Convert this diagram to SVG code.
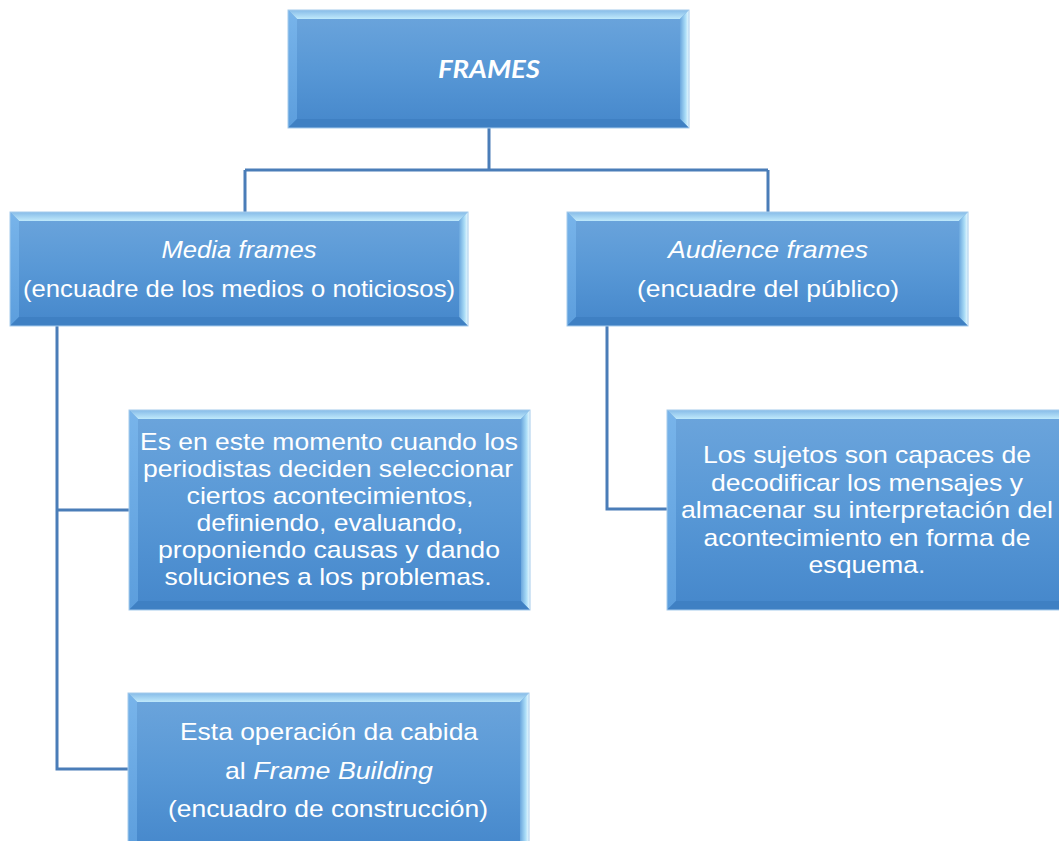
<svg xmlns="http://www.w3.org/2000/svg" width="1059" height="841" viewBox="0 0 1059 841">
<defs>
<linearGradient id="gMain" x1="0" y1="0" x2="0" y2="1">
<stop offset="0" stop-color="#6ca5dc"/>
<stop offset="0.5" stop-color="#5898d6"/>
<stop offset="1" stop-color="#4587cb"/>
</linearGradient>
<linearGradient id="gTop" x1="0" y1="0" x2="0" y2="1">
<stop offset="0" stop-color="#86bbe8"/>
<stop offset="1" stop-color="#bfe9fb"/>
</linearGradient>
<linearGradient id="gRight" x1="0" y1="0" x2="1" y2="0">
<stop offset="0" stop-color="#6aa6dd"/>
<stop offset="0.6" stop-color="#a9dcf7"/>
<stop offset="1" stop-color="#eefbff"/>
</linearGradient>
<linearGradient id="gLeft" x1="0" y1="0" x2="0" y2="1">
<stop offset="0" stop-color="#78b4ea"/>
<stop offset="1" stop-color="#5c9edd"/>
</linearGradient>
</defs>
<style>
.main{fill:url(#gMain)}
.bt{fill:url(#gTop)}
.bl{fill:url(#gLeft)}
.br{fill:url(#gRight)}
.bb{fill:#3f80c3}
.edge{fill:none;stroke:#a6cbec;stroke-width:1}
.conn{fill:none;stroke:#4a7db8;stroke-width:3}
text{font-family:"Liberation Sans",Arial,sans-serif;font-size:24px;fill:#ffffff;text-anchor:middle}
.title{font-family:Lato,"Liberation Sans",sans-serif;font-weight:bold;font-style:italic;font-size:25px}
.it{font-style:italic}
</style>

<g id="connectors">
<path class="conn" d="M489,128 V170 M245,170 H768 M245,170 V212 M768,170 V212"/>
<path class="conn" d="M57,326 V769 H129 M57,510 H129"/>
<path class="conn" d="M607,326 V509 H667"/>
</g>

<g id="frames">
<rect class="main" x="288" y="10" width="401" height="118"/>
<polygon class="bt" points="288,10 689,10 680,19 297,19"/>
<polygon class="bl" points="288,10 297,19 297,119 288,128"/>
<polygon class="br" points="689,10 689,128 680,119 680,19"/>
<polygon class="bb" points="288,128 297,119 680,119 689,128"/>
<rect class="edge" x="288" y="10" width="401" height="118"/>
<text class="title" x="489" y="78" textLength="102" lengthAdjust="spacingAndGlyphs">FRAMES</text>
</g>

<g id="media">
<rect class="main" x="10" y="212" width="458" height="114"/>
<polygon class="bt" points="10,212 468,212 459,221 19,221"/>
<polygon class="bl" points="10,212 19,221 19,317 10,326"/>
<polygon class="br" points="468,212 468,326 459,317 459,221"/>
<polygon class="bb" points="10,326 19,317 459,317 468,326"/>
<rect class="edge" x="10" y="212" width="458" height="114"/>
<text class="it" x="239" y="258" textLength="155" lengthAdjust="spacingAndGlyphs">Media frames</text>
<text x="239" y="297" textLength="432" lengthAdjust="spacingAndGlyphs">(encuadre de los medios o noticiosos)</text>
</g>

<g id="audience">
<rect class="main" x="567" y="212" width="401" height="114"/>
<polygon class="bt" points="567,212 968,212 959,221 576,221"/>
<polygon class="bl" points="567,212 576,221 576,317 567,326"/>
<polygon class="br" points="968,212 968,326 959,317 959,221"/>
<polygon class="bb" points="567,326 576,317 959,317 968,326"/>
<rect class="edge" x="567" y="212" width="401" height="114"/>
<text class="it" x="768" y="258" textLength="200" lengthAdjust="spacingAndGlyphs">Audience frames</text>
<text x="768" y="297" textLength="262" lengthAdjust="spacingAndGlyphs">(encuadre del público)</text>
</g>

<g id="media-detail">
<rect class="main" x="129" y="410" width="401" height="200"/>
<polygon class="bt" points="129,410 530,410 521,419 138,419"/>
<polygon class="bl" points="129,410 138,419 138,601 129,610"/>
<polygon class="br" points="530,410 530,610 521,601 521,419"/>
<polygon class="bb" points="129,610 138,601 521,601 530,610"/>
<rect class="edge" x="129" y="410" width="401" height="200"/>
<text x="329" y="450" textLength="378" lengthAdjust="spacingAndGlyphs">Es en este momento cuando los</text>
<text x="328" y="477" textLength="370" lengthAdjust="spacingAndGlyphs">periodistas deciden seleccionar</text>
<text x="330" y="504" textLength="287" lengthAdjust="spacingAndGlyphs">ciertos acontecimientos,</text>
<text x="330" y="531" textLength="267" lengthAdjust="spacingAndGlyphs">definiendo, evaluando,</text>
<text x="329" y="558" textLength="342" lengthAdjust="spacingAndGlyphs">proponiendo causas y dando</text>
<text x="328" y="585" textLength="327" lengthAdjust="spacingAndGlyphs">soluciones a los problemas.</text>
</g>

<g id="audience-detail">
<rect class="main" x="667" y="410" width="401" height="200"/>
<polygon class="bt" points="667,410 1068,410 1059,419 676,419"/>
<polygon class="bl" points="667,410 676,419 676,601 667,610"/>
<polygon class="br" points="1068,410 1068,610 1059,601 1059,419"/>
<polygon class="bb" points="667,610 676,601 1059,601 1068,610"/>
<rect class="edge" x="667" y="410" width="401" height="200"/>
<text x="867" y="463" textLength="328" lengthAdjust="spacingAndGlyphs">Los sujetos son capaces de</text>
<text x="867" y="490.5" textLength="312" lengthAdjust="spacingAndGlyphs">decodificar los mensajes y</text>
<text x="867" y="518" textLength="372" lengthAdjust="spacingAndGlyphs">almacenar su interpretación del</text>
<text x="867" y="545.5" textLength="327" lengthAdjust="spacingAndGlyphs">acontecimiento en forma de</text>
<text x="867" y="573" textLength="117" lengthAdjust="spacingAndGlyphs">esquema.</text>
</g>

<g id="frame-building">
<rect class="main" x="128" y="693" width="401" height="160"/>
<polygon class="bt" points="128,693 529,693 520,702 137,702"/>
<polygon class="bl" points="128,693 137,702 137,844 128,853"/>
<polygon class="br" points="529,693 529,853 520,844 520,702"/>
<rect class="edge" x="128" y="693" width="401" height="160"/>
<text x="329" y="740" textLength="298" lengthAdjust="spacingAndGlyphs">Esta operación da cabida</text>
<text x="329" y="779" textLength="208" lengthAdjust="spacingAndGlyphs">al <tspan class="it">Frame Building</tspan></text>
<text x="328" y="817" textLength="320" lengthAdjust="spacingAndGlyphs">(encuadro de construcción)</text>
</g>
</svg>
